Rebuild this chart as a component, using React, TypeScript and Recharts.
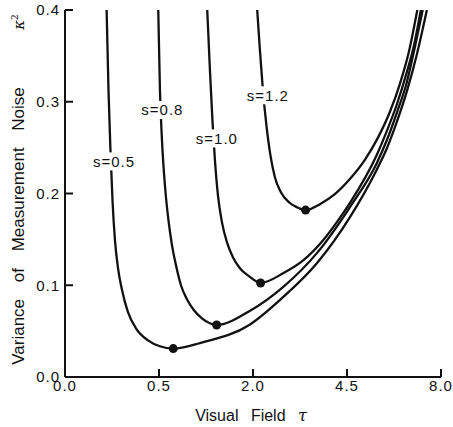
import { ComposedChart, Line, Scatter, XAxis, YAxis } from "recharts";

// visual field tau vs variance of measurement noise kappa^2, one curve per s
const s05 = [
  [0.098, 0.4], [0.107, 0.313], [0.117, 0.247], [0.1276, 0.193], [0.1413, 0.149],
  [0.1588, 0.119], [0.1837, 0.095], [0.2244, 0.0706], [0.285, 0.0531], [0.3894, 0.04],
  [0.51, 0.0335], [0.663, 0.031], [1.03, 0.037], [1.93, 0.057], [2.69, 0.087],
  [3.59, 0.124], [4.59, 0.174], [5.5, 0.226], [5.86, 0.249], [6.23, 0.278],
  [6.61, 0.311], [7.0, 0.351], [7.41, 0.4],
];
const s08 = [
  [0.492, 0.4], [0.51, 0.313], [0.532, 0.2585], [0.565, 0.209], [0.6056, 0.171],
  [0.6472, 0.144], [0.6965, 0.122], [0.7607, 0.1], [0.8414, 0.0848], [0.9407, 0.0728],
  [1.061, 0.064], [1.1886, 0.0586], [1.301, 0.0567], [1.93, 0.072], [2.69, 0.098],
  [3.59, 0.135], [4.59, 0.185], [5.5, 0.233], [5.86, 0.258], [6.23, 0.288],
  [6.61, 0.321], [6.93, 0.36], [7.24, 0.4],
];
const s10 = [
  [1.1448, 0.4], [1.1886, 0.3346], [1.23, 0.28], [1.272, 0.2364], [1.3233, 0.1982],
  [1.3935, 0.1688], [1.4836, 0.147], [1.5956, 0.1306], [1.7313, 0.1186], [1.914, 0.1099],
  [2.165, 0.1025], [2.69, 0.113], [3.21, 0.127], [3.77, 0.149], [4.183, 0.1688],
  [4.59, 0.1895], [5.5, 0.242], [5.86, 0.268], [6.23, 0.297], [6.61, 0.332],
  [6.886, 0.3607], [7.165, 0.4],
];
const s12 = [
  [2.0905, 0.4], [2.1496, 0.3564], [2.2163, 0.3127], [2.2953, 0.2745], [2.3873, 0.2418],
  [2.4931, 0.2178], [2.6375, 0.2014], [2.8366, 0.1905], [3.0428, 0.1851], [3.2753, 0.1819],
  [3.676, 0.1884], [4.121, 0.1993], [4.592, 0.2157], [5.088, 0.2366], [5.538, 0.2606],
  [5.971, 0.2888], [6.344, 0.3193], [6.69, 0.3542], [7.024, 0.4],
];
const minima = [[0.663, 0.031], [1.301, 0.0567], [2.165, 0.1025], [3.2753, 0.1819]];

const curveNames = ["s=0.5", "s=0.8", "s=1.0", "s=1.2"];
const labelT = [0.136, 0.537, 1.306, 2.33];
const labelK = [0.235, 0.291, 0.26, 0.307];

const xTicks = [0, 0.5, 2, 4.5, 8];
const yTicks = [0, 0.1, 0.2, 0.3, 0.4];

const toRows = (pts: number[][]) => pts.map(([t, k]) => ({ t, k }));
const curves = [s05, s08, s10, s12].map(toRows);
const labelRows = curveNames.map((name, i) => ({ t: labelT[i], k: labelK[i], name }));

const FONT = '"Liberation Sans", Arial, sans-serif';
const INK = "#111";

const YTick = (props: any) => {
  const { x, y, payload } = props;
  return (
    <g>
      <line x1={x + 5} x2={x + 13} y1={y} y2={y} stroke={INK} strokeWidth={2} />
      <text x={x} y={y} dy="0.36em" textAnchor="end" fontFamily={FONT} fontSize={15} letterSpacing={1} fill={INK}>
        {payload.value.toFixed(1)}
      </text>
    </g>
  );
};

const XTick = (props: any) => {
  const { x, y, payload } = props;
  return (
    <g>
      <line x1={x} x2={x} y1={y - 3} y2={y - 11} stroke={INK} strokeWidth={2} />
      <text x={x} y={y} dy="0.71em" textAnchor="middle" fontFamily={FONT} fontSize={15} letterSpacing={1} fill={INK}>
        {payload.value.toFixed(1)}
      </text>
    </g>
  );
};

// curve name on a white patch, so the curve is broken behind it
const CurveLabel = (p: any) => (
  <g>
    <rect x={p.cx - 22} y={p.cy - 9} width={44} height={18} fill="#fff" />
    <text x={p.cx} y={p.cy} dy="0.36em" textAnchor="middle" fontFamily={FONT} fontSize={15} letterSpacing={1} fill={INK}>
      {p.payload.name}
    </text>
  </g>
);

export default function App() {
  return (
    <div style={{ position: "absolute", left: 0, top: 0, width: 453, height: 427, background: "#fff" }}>
      <ComposedChart width={453} height={427} margin={{ top: 10, right: 12, bottom: 10, left: 0 }}>
        <XAxis
          type="number"
          dataKey="t"
          scale="sqrt"
          domain={[0, 8]}
          ticks={xTicks}
          allowDataOverflow
          height={40}
          tickSize={0}
          tickMargin={3}
          tickLine={false}
          axisLine={{ stroke: INK, strokeWidth: 2 }}
          tick={<XTick />}
        />
        <YAxis
          type="number"
          dataKey="k"
          domain={[0, 0.4]}
          ticks={yTicks}
          allowDataOverflow
          width={65}
          tickSize={0}
          tickMargin={5}
          tickLine={false}
          axisLine={{ stroke: INK, strokeWidth: 2 }}
          tick={<YTick />}
        />
        {curves.map((rows, i) => (
          <Line
            key={curveNames[i]}
            data={rows}
            dataKey="k"
            type="monotone"
            stroke={INK}
            strokeWidth={2.3}
            dot={false}
            isAnimationActive={false}
          />
        ))}
        <Scatter
          data={toRows(minima)}
          dataKey="k"
          isAnimationActive={false}
          shape={(p: any) => <circle cx={p.cx} cy={p.cy} r={4.5} fill={INK} />}
        />
        <Scatter data={labelRows} dataKey="k" isAnimationActive={false} shape={CurveLabel} />
      </ComposedChart>
      <div
        style={{
          position: "absolute",
          left: 251,
          top: 415,
          transform: "translate(-50%, -50%)",
          fontFamily: FONT,
          fontSize: 16,
          wordSpacing: 8,
          whiteSpace: "nowrap",
          color: INK,
        }}
      >
        Visual Field <i style={{ fontFamily: "'DejaVu Serif', serif" }}>τ</i>
      </div>
      <div
        style={{
          position: "absolute",
          left: 19,
          top: 226,
          transform: "translate(-50%, -50%) rotate(-90deg)",
          fontFamily: FONT,
          fontSize: 17,
          wordSpacing: 12,
          whiteSpace: "nowrap",
          color: INK,
        }}
      >
        Variance of Measurement Noise
      </div>
      <div
        style={{
          position: "absolute",
          left: 19,
          top: 22,
          transform: "translate(-50%, -50%) rotate(-90deg)",
          fontFamily: "'DejaVu Serif', serif",
          fontSize: 15,
          whiteSpace: "nowrap",
          color: INK,
        }}
      >
        <i>κ</i>
        <sup style={{ fontSize: 9 }}>2</sup>
      </div>
    </div>
  );
}
